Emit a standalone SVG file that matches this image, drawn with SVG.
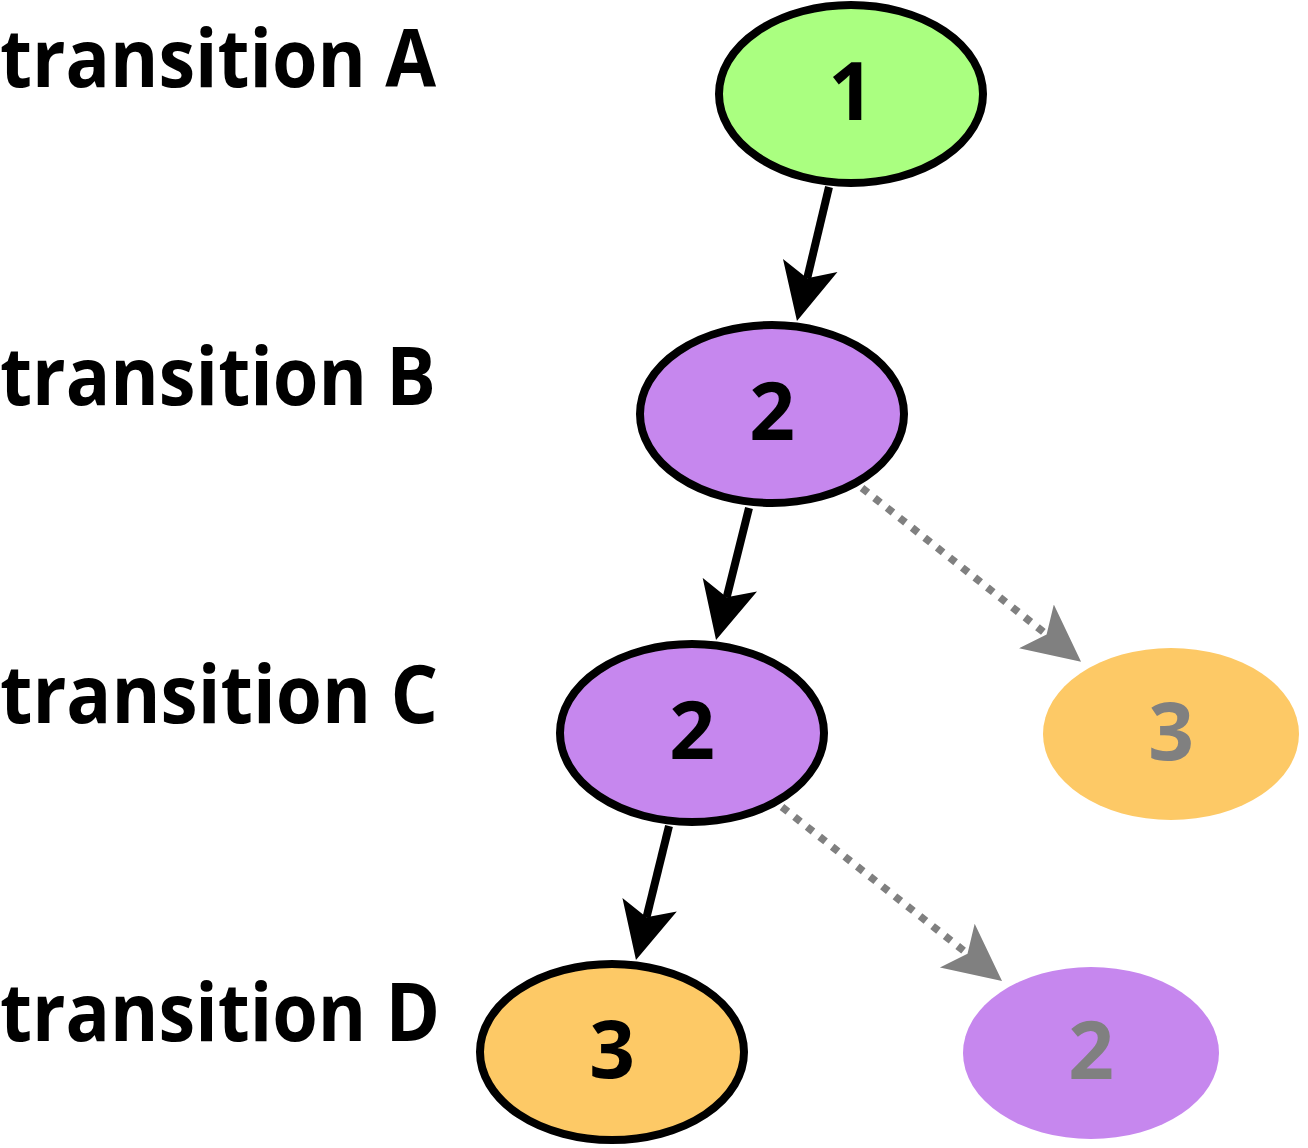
<svg xmlns="http://www.w3.org/2000/svg" width="1308" height="1148" viewBox="0 0 1308 1148">
  <defs>
    <style>
      .label { font-family: "Open Sans", "DejaVu Sans", sans-serif; font-weight: bold; font-size: 80px; fill: #000; }
      .num { font-family: "Open Sans", "DejaVu Sans", sans-serif; font-weight: bold; font-size: 80px; text-anchor: middle; }
      .solid { stroke: #000; stroke-width: 8; }
      .green { fill: #aaff80; }
      .purple { fill: #c687ee; }
      .orange { fill: #fdc966; }
      .edge { stroke: #000; stroke-width: 8; fill: none; }
      .ghost { stroke: #808080; stroke-width: 7.5; stroke-dasharray: 7.5 8.5; fill: none; }
    </style>
    <marker id="ahBlack" markerUnits="userSpaceOnUse" markerWidth="60" markerHeight="60" viewBox="0 -30 60 60" refX="13" refY="0" orient="auto">
      <path d="M0,-28 L57,0 L0,28 L13,0 Z" fill="#000"/>
    </marker>
    <marker id="ahGray" markerUnits="userSpaceOnUse" markerWidth="60" markerHeight="60" viewBox="0 -30 60 60" refX="13" refY="0" orient="auto">
      <path d="M0,-28 L57,0 L0,28 L13,0 Z" fill="#808080"/>
    </marker>
  </defs>
  <rect width="1308" height="1148" fill="#fff"/>

  <g id="labels">
    <text class="label" x="0" y="87" textLength="436" lengthAdjust="spacingAndGlyphs">transition A</text>
    <text class="label" x="0" y="405" textLength="436" lengthAdjust="spacingAndGlyphs">transition B</text>
    <text class="label" x="0" y="723" textLength="438" lengthAdjust="spacingAndGlyphs">transition C</text>
    <text class="label" x="0" y="1041" textLength="440" lengthAdjust="spacingAndGlyphs">transition D</text>
  </g>

  <g id="connectors">
    <line class="edge" x1="829" y1="187" x2="807.2" y2="278.2" marker-end="url(#ahBlack)"/>
    <line class="edge" x1="749" y1="508" x2="726.7" y2="597.3" marker-end="url(#ahBlack)"/>
    <line class="edge" x1="669" y1="826" x2="646.5" y2="917.3" marker-end="url(#ahBlack)"/>
    <line class="ghost" x1="862" y1="488" x2="1046.6" y2="634.5" marker-end="url(#ahGray)"/>
    <line class="ghost" x1="782" y1="807" x2="967.5" y2="953.7" marker-end="url(#ahGray)"/>
  </g>

  <g id="node-1">
    <ellipse class="green solid" cx="851" cy="94" rx="132" ry="89"/>
    <text class="num" x="851" y="120" fill="#000">1</text>
  </g>
  <g id="node-2b">
    <ellipse class="purple solid" cx="772" cy="414" rx="132" ry="89"/>
    <text class="num" x="772" y="440" fill="#000">2</text>
  </g>
  <g id="node-2c">
    <ellipse class="purple solid" cx="692" cy="733" rx="132" ry="89"/>
    <text class="num" x="692" y="759" fill="#000">2</text>
  </g>
  <g id="node-3d">
    <ellipse class="orange solid" cx="612" cy="1052" rx="132" ry="88"/>
    <text class="num" x="612" y="1078" fill="#000">3</text>
  </g>
  <g id="node-3c-ghost">
    <ellipse class="orange" cx="1171" cy="734" rx="128" ry="86"/>
    <text class="num" x="1171" y="760" fill="#808080">3</text>
  </g>
  <g id="node-2d-ghost">
    <ellipse class="purple" cx="1091" cy="1053" rx="128" ry="86"/>
    <text class="num" x="1091" y="1079" fill="#808080">2</text>
  </g>
</svg>
